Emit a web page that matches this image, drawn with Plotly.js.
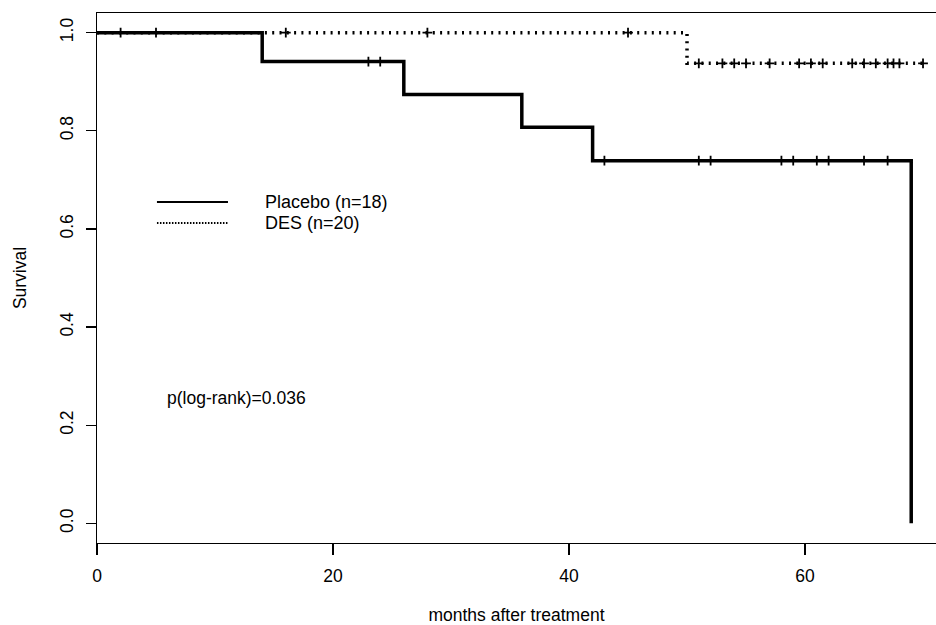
<!DOCTYPE html>
<html>
<head>
<meta charset="utf-8">
<script src="https://cdn.plot.ly/plotly-3.0.1.min.js"></script>
<style>html,body{margin:0;padding:0;background:#fff;}#chart{width:936px;height:625px;}</style>
</head>
<body>
<div id="chart"></div>
<script>
// Kaplan-Meier step data
const placeboTimes = [0, 14, 26, 36, 42, 69];
const placeboSurv = [1, 0.941, 0.874, 0.807, 0.739, 0];
const placeboCensor = [2, 5, 23, 24, 43, 51, 52, 58, 59, 61, 62, 65, 67];

const desTimes = [0, 50, 70];
const desSurv = [1, 0.9375, 0.9375];
const desCensor = [16, 28, 45, 51, 53, 54, 55, 57, 59.5, 60.5, 61.5, 64, 65, 66, 67, 67.5, 68, 70];

const xTicks = [0, 20, 40, 60];
const yTicks = [0, 0.2, 0.4, 0.6, 0.8, 1.0];
const yTickText = ['0.0', '0.2', '0.4', '0.6', '0.8', '1.0'];

const legendLabels = ['Placebo (n=18)', 'DES (n=20)'];
const pText = 'p(log-rank)=0.036';

function survAt(times, surv, t) {
  let s = surv[0];
  for (let i = 0; i < times.length; i++) {
    if (times[i] <= t && surv[i] > 0) s = surv[i];
  }
  return s;
}

const FONT = 'Liberation Sans, Arial, sans-serif';

const traces = [
  {x: placeboTimes, y: placeboSurv, mode: 'lines', line: {shape: 'hv', color: '#000', width: 3.5}, hoverinfo: 'skip'},
  {x: desTimes, y: desSurv, mode: 'lines', line: {shape: 'hv', color: '#000', width: 3.5, dash: '2px,5.3px'}, hoverinfo: 'skip'},
  {x: placeboCensor, y: placeboCensor.map(t => survAt(placeboTimes, placeboSurv, t)), mode: 'markers',
   marker: {symbol: 'cross-thin', size: 7, line: {color: '#000', width: 1.8}}, hoverinfo: 'skip'},
  {x: desCensor, y: desCensor.map(t => survAt(desTimes, desSurv, t)), mode: 'markers',
   marker: {symbol: 'cross-thin', size: 7, line: {color: '#000', width: 1.8}}, hoverinfo: 'skip'}
];

const layout = {
  width: 936, height: 625,
  margin: {l: 97, r: 0, t: 13, b: 82},
  paper_bgcolor: '#fff', plot_bgcolor: '#fff',
  showlegend: false,
  font: {family: FONT, size: 17.5, color: '#000'},
  xaxis: {
    range: [0, 71.1], showgrid: false, zeroline: false,
    showline: true, linecolor: '#000', linewidth: 1.3, mirror: true,
    ticks: 'outside', ticklen: 11, tickwidth: 1.2, tickcolor: '#000',
    tickvals: xTicks, ticktext: xTicks.map(String), ticklabelstandoff: 6,
    tickfont: {family: FONT, size: 17.5, color: '#000'},
    title: {text: 'months after treatment', font: {family: FONT, size: 17.5, color: '#000'}, standoff: 26},
    automargin: false, fixedrange: true
  },
  yaxis: {
    range: [-0.04, 1.04], showgrid: false, zeroline: false,
    showline: true, linecolor: '#000', linewidth: 1.3, mirror: false,
    ticks: 'outside', ticklen: 10, tickwidth: 1.2, tickcolor: '#000',
    tickvals: yTicks, ticktext: yTickText, tickangle: -90, ticklabelstandoff: 6,
    tickfont: {family: FONT, size: 17.5, color: '#000'},
    title: {text: 'Survival', font: {family: FONT, size: 17.5, color: '#000'}, standoff: 25},
    automargin: false, fixedrange: true
  },
  shapes: [
    {type: 'line', xref: 'x', yref: 'y', x0: 5.08, x1: 11.1, y0: 0.655, y1: 0.655, line: {color: '#000', width: 2}},
    {type: 'line', xref: 'x', yref: 'y', x0: 5.08, x1: 11.1, y0: 0.612, y1: 0.612, line: {color: '#000', width: 2, dash: '1.5px,1.5px'}}
  ],
  annotations: [
    {xref: 'x', yref: 'y', x: 14.1, y: 0.655, text: legendLabels[0], showarrow: false, xanchor: 'left', yanchor: 'middle', font: {family: FONT, size: 18, color: '#000'}},
    {xref: 'x', yref: 'y', x: 14.1, y: 0.612, text: legendLabels[1], showarrow: false, xanchor: 'left', yanchor: 'middle', font: {family: FONT, size: 18, color: '#000'}},
    {xref: 'x', yref: 'y', x: 5.8, y: 0.255, text: pText, showarrow: false, xanchor: 'left', yanchor: 'middle', font: {family: FONT, size: 17.5, color: '#000'}}
  ]
};

Plotly.newPlot('chart', traces, layout, {staticPlot: true, displayModeBar: false});
</script>
</body>
</html>
